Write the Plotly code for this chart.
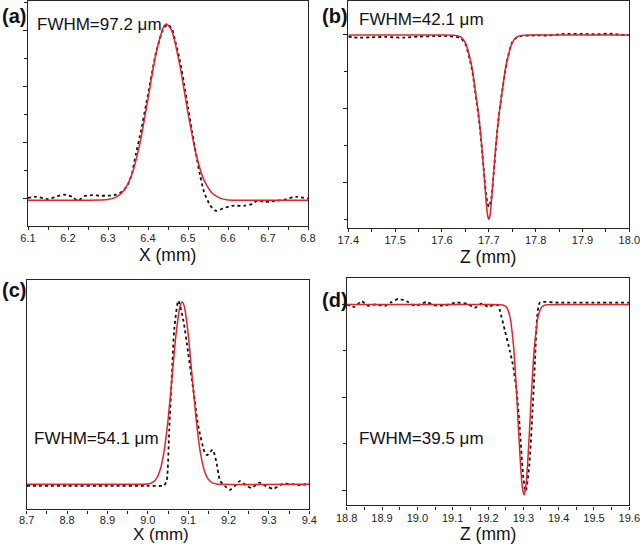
import plotly.graph_objects as go

# ---------------- data ----------------
# (a) X scan, intensity in tick units
a_meas_x = [6.10, 6.12, 6.15, 6.17, 6.19, 6.21, 6.225, 6.24, 6.26, 6.28, 6.30, 6.32, 6.335, 6.35,
            6.36, 6.37, 6.38, 6.40, 6.42, 6.44, 6.45, 6.46, 6.47, 6.48, 6.49, 6.50, 6.51, 6.52,
            6.53, 6.54, 6.555, 6.57, 6.59, 6.61, 6.64, 6.66, 6.675, 6.69, 6.71, 6.74, 6.77, 6.80]
a_meas_y = [0.01, 0.03, -0.01, 0.03, 0.07, 0.03, -0.04, 0.04, 0.06, 0.05, 0.05, 0.07, 0.12, 0.25,
            0.45, 0.80, 1.12, 1.85, 2.60, 3.05, 3.10, 3.02, 2.75, 2.45, 2.05, 1.62, 1.20, 0.80,
            0.42, 0.12, -0.12, -0.22, -0.17, -0.13, -0.13, -0.10, -0.03, -0.06, -0.05, -0.02, 0.03, 0.0]
a_fit_x = [6.10, 6.25, 6.30, 6.32, 6.34, 6.36, 6.38, 6.40, 6.42, 6.44, 6.447, 6.46, 6.48, 6.50,
           6.52, 6.54, 6.56, 6.58, 6.60, 6.65, 6.80]
a_fit_y = [-0.03, -0.03, -0.016, 0.024, 0.147, 0.438, 0.986, 1.772, 2.584, 3.072, 3.11, 2.979,
           2.358, 1.520, 0.793, 0.327, 0.097, 0.007, -0.025, -0.03, -0.03]

# (b) Z scan
b_meas_x = [17.40, 17.42, 17.45, 17.48, 17.52, 17.55, 17.58, 17.61, 17.63, 17.64, 17.65, 17.66,
            17.665, 17.67, 17.675, 17.68, 17.685, 17.69, 17.695, 17.70, 17.705, 17.71, 17.715,
            17.72, 17.725, 17.73, 17.735, 17.74, 17.745, 17.75, 17.76, 17.77, 17.80, 17.83,
            17.86, 17.90, 17.93, 17.96, 17.98, 18.00]
b_meas_y = [4.95, 4.92, 4.93, 4.94, 4.92, 4.95, 4.96, 4.96, 4.94, 4.91, 4.75, 4.30,
            4.00, 3.55, 3.10, 2.60, 1.95, 1.25, 0.60, 0.35, 0.55, 1.20, 1.95,
            2.65, 3.15, 3.60, 4.00, 4.35, 4.60, 4.80, 4.93, 4.97, 4.98, 4.98,
            5.02, 5.02, 5.01, 5.03, 5.00, 4.99]
b_fit_x = [17.40, 17.60, 17.63, 17.64, 17.65, 17.655, 17.66, 17.665, 17.67, 17.675, 17.68,
           17.685, 17.69, 17.695, 17.6975, 17.70, 17.7025, 17.705, 17.71, 17.715, 17.72,
           17.725, 17.73, 17.735, 17.74, 17.745, 17.75, 17.76, 17.77, 17.80, 18.00]
b_fit_y = [4.99, 4.99, 4.98, 4.94, 4.78, 4.60, 4.35, 4.05, 3.60, 3.15, 2.65,
           2.00, 1.20, 0.40, 0.12, 0.02, 0.12, 0.40, 1.20, 2.00, 2.65,
           3.15, 3.60, 4.05, 4.35, 4.60, 4.78, 4.94, 4.98, 4.99, 4.99]

# (c) X scan, normalised intensity
c_meas_x = [8.70, 8.80, 8.90, 9.00, 9.04, 9.0467, 9.053, 9.059, 9.0655, 9.0755, 9.088, 9.100,
            9.1126, 9.125, 9.1416, 9.147, 9.1606, 9.169, 9.179, 9.191, 9.2035, 9.215, 9.228,
            9.243, 9.257, 9.276, 9.293, 9.311, 9.335, 9.362, 9.382, 9.40]
c_meas_y = [-0.008, -0.008, -0.008, -0.008, -0.006, 0.02, 0.30, 0.57, 0.85, 1.007, 0.90, 0.72,
            0.52, 0.32, 0.17, 0.16, 0.19, 0.13, 0.02, -0.01, -0.03, -0.01, 0.018,
            -0.005, -0.02, 0.009, -0.01, -0.024, 0.003, 0.0, -0.005, 0.01]
c_fit_x = [8.70, 8.95, 9.00, 9.01, 9.02, 9.03, 9.04, 9.05, 9.06, 9.07, 9.08, 9.085, 9.09,
           9.10, 9.11, 9.12, 9.13, 9.14, 9.15, 9.16, 9.17, 9.18, 9.40]
c_fit_y = [0.0, 0.0, 0.002, 0.008, 0.027, 0.076, 0.177, 0.351, 0.586, 0.825, 0.979, 1.0, 0.979,
           0.825, 0.586, 0.351, 0.177, 0.076, 0.027, 0.008, 0.002, 0.0, 0.0]

# (d) Z scan
d_meas_x = [18.80, 18.823, 18.842, 18.861, 18.88, 18.908, 18.927, 18.946, 18.97, 18.993, 19.026,
            19.05, 19.078, 19.109, 19.14, 19.163, 19.182, 19.201, 19.22, 19.229, 19.234, 19.248,
            19.262, 19.272, 19.281, 19.29, 19.30, 19.307, 19.317, 19.326, 19.333, 19.339,
            19.347, 19.40, 19.50, 19.60]
d_meas_y = [4.00, 3.95, 4.07, 3.97, 4.00, 3.97, 4.05, 4.12, 4.07, 3.97, 4.05,
            3.98, 3.98, 4.04, 4.02, 3.93, 4.02, 3.95, 4.00, 3.98, 3.86, 3.43,
            3.00, 2.64, 2.13, 1.34, 0.27, -0.02, 0.55, 1.70, 2.78, 3.71,
            4.04, 4.04, 4.04, 4.04]
d_fit_x = [18.80, 19.20, 19.242, 19.252, 19.262, 19.272, 19.277, 19.282, 19.287, 19.292,
           19.297, 19.302, 19.307, 19.312, 19.317, 19.322, 19.327, 19.332, 19.342, 19.352,
           19.362, 19.40, 19.60]
d_fit_y = [4.00, 4.00, 3.99, 3.946, 3.743, 3.137, 2.611, 1.95, 1.225, 0.556, 0.078, -0.095,
           0.078, 0.556, 1.225, 1.95, 2.611, 3.137, 3.743, 3.946, 3.99, 4.00, 4.00]

x_titles = ["X (mm)", "Z (mm)", "X (mm)", "Z (mm)"]
panel_labels = ["(a)", "(b)", "(c)", "(d)"]
fwhm_labels = ["FWHM=97.2 μm", "FWHM=42.1 μm", "FWHM=54.1 μm", "FWHM=39.5 μm"]

# ---------------- figure ----------------
W, H = 640, 544
FONT = "Arial, Liberation Sans, sans-serif"
RED = "#e3232b"
AX = "#262626"

fig = go.Figure()
panels = [
    (a_meas_x, a_meas_y, a_fit_x, a_fit_y),
    (b_meas_x, b_meas_y, b_fit_x, b_fit_y),
    (c_meas_x, c_meas_y, c_fit_x, c_fit_y),
    (d_meas_x, d_meas_y, d_fit_x, d_fit_y),
]
for i, (mx, my, fx, fy) in enumerate(panels):
    xa = "x" if i == 0 else f"x{i+1}"
    ya = "y" if i == 0 else f"y{i+1}"
    fig.add_trace(go.Scatter(x=mx, y=my, mode="lines", xaxis=xa, yaxis=ya,
                             line=dict(color="#111111", width=1.8, dash="dot", shape="spline", smoothing=0.6),
                             showlegend=False))
    fig.add_trace(go.Scatter(x=fx, y=fy, mode="lines", xaxis=xa, yaxis=ya,
                             line=dict(color=RED, width=1.5, shape="spline", smoothing=0.6),
                             showlegend=False))

def px2x(p):
    return p / W

def px2y(p):
    return 1 - p / H

# pixel boxes: left, right, top, bottom
boxes = [(28, 308, 1, 226), (348.3, 629.3, 1, 227.7), (26.7, 309.3, 280.3, 509.3), (346.7, 629.3, 278, 505.3)]
x_ranges = [(6.1, 6.8), (17.4, 18.0), (8.7, 9.4), (18.8, 19.6)]
y_ranges = [(-0.49, 3.52), (-0.21, 5.91), (-0.137, 1.119), (-0.32, 4.57)]
y_ticks = [dict(tick0=0, dtick=1, minor=0.5), dict(tick0=1, dtick=2, minor=1), None,
           dict(tick0=0, dtick=2, minor=1)]
label_standoff = [-1, -1, -3, -1]

layout = dict(width=W, height=H, margin=dict(l=0, r=0, t=0, b=0, autoexpand=False),
              plot_bgcolor="white", paper_bgcolor="white", showlegend=False,
              font=dict(family=FONT, color="#222"))
for i in range(4):
    l, r, t, b = boxes[i]
    xs = "xaxis" if i == 0 else f"xaxis{i+1}"
    ys = "yaxis" if i == 0 else f"yaxis{i+1}"
    yanchor = "y" if i == 0 else f"y{i+1}"
    xanchor = "x" if i == 0 else f"x{i+1}"
    layout[xs] = dict(domain=[px2x(l), px2x(r)], anchor=yanchor, range=list(x_ranges[i]),
                      automargin=False, ticklabeloverflow="allow",
                      showline=True, mirror=True, linecolor=AX, linewidth=1.4,
                      ticks="outside", ticklen=3, tickwidth=1, tickcolor=AX,
                      tick0=x_ranges[i][0], dtick=0.1, tickformat=".1f",
                      ticklabelstandoff=label_standoff[i],
                      minor=dict(ticks="outside", ticklen=3, dtick=0.05, tick0=x_ranges[i][0], tickcolor=AX),
                      showgrid=False, zeroline=False,
                      tickfont=dict(size=11, family=FONT, color="#222"))
    ycfg = dict(domain=[px2y(b), px2y(t)], anchor=xanchor, range=list(y_ranges[i]),
                automargin=False,
                showline=True, mirror=True, linecolor=AX, linewidth=1.4,
                showticklabels=False, showgrid=False, zeroline=False)
    if y_ticks[i] is not None:
        yt = y_ticks[i]
        ycfg.update(ticks="outside", ticklen=4, tickwidth=1, tickcolor=AX,
                    tick0=yt["tick0"], dtick=yt["dtick"],
                    minor=dict(ticks="outside", ticklen=3, dtick=yt["minor"], tick0=0, tickcolor=AX))
    else:
        ycfg.update(ticks="")
    layout[ys] = ycfg

ann = []
label_pos = [(0, 16), (320, 16), (0, 290), (320, 299.5)]
fwhm_pos = [(35, 25), (356.7, 20), (32.3, 438.5), (357.3, 438.5)]
title_pos = [(167, 255), (488, 257), (161, 534.5), (487.5, 533.5)]
title_size = [17.5, 17.5, 17, 17.5]
for i in range(4):
    ann.append(dict(text=f"<b>{panel_labels[i]}</b>", xref="paper", yref="paper",
                    x=px2x(label_pos[i][0]), y=px2y(label_pos[i][1]), xanchor="left", yanchor="middle",
                    showarrow=False, font=dict(size=20, family=FONT, color="#111")))
    ann.append(dict(text=fwhm_labels[i], xref="paper", yref="paper",
                    x=px2x(fwhm_pos[i][0]), y=px2y(fwhm_pos[i][1]), xanchor="left", yanchor="middle",
                    showarrow=False, font=dict(size=17, family=FONT, color="#111")))
    ann.append(dict(text=x_titles[i], xref="paper", yref="paper",
                    x=px2x(title_pos[i][0]), y=px2y(title_pos[i][1]), xanchor="center", yanchor="middle",
                    showarrow=False, font=dict(size=title_size[i], family=FONT, color="#111")))
layout["annotations"] = ann
fig.update_layout(**layout)
fig.write_html("out.html")
